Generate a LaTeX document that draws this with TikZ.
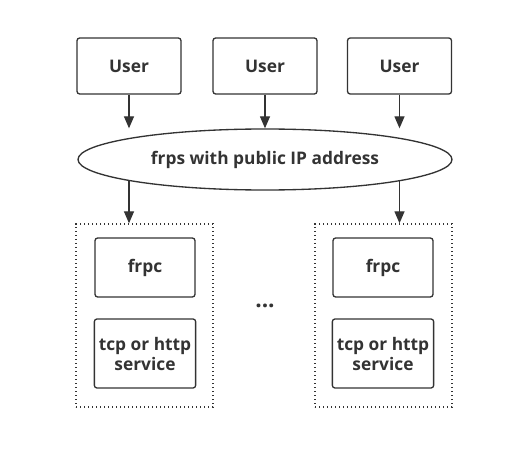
\documentclass[tikz,border=0pt]{standalone}
\usepackage{fontspec}
\setmainfont{Open Sans}
\usetikzlibrary{shapes.geometric,arrows.meta}
\definecolor{ink}{HTML}{333333}
\def\colA{129}
\def\colB{265}
\def\colC{399.5}
\def\rowuser{66}
\def\rowsrv{159.5}
\def\rowclient{315.5}

\begin{document}
\begin{tikzpicture}[x=0.75pt,y=-0.75pt,
    every node/.style={font=\bfseries\fontsize{13}{15}\selectfont, text=ink},
    userbox/.style={draw=ink, line width=1pt, rounded corners=2pt,
        minimum width=78pt, minimum height=42pt},
    innerbox/.style={draw=ink, line width=1pt, rounded corners=2pt,
        minimum width=75pt, align=center},
    clientbox/.style={draw=ink, line width=1pt, dotted,
        minimum width=102.75pt, minimum height=137.25pt},
    flow/.style={draw=ink, line width=1pt, -{Triangle[length=9pt,width=7.5pt]}}]
    \useasboundingbox (0,0) rectangle (532,456);

    \node[userbox] (u1) at (\colA,\rowuser) {User};
    \node[userbox] (u2) at (\colB,\rowuser) {User};
    \node[userbox] (u3) at (\colC,\rowuser) {User};

    \node[ellipse, draw=ink, line width=1pt, minimum width=280.5pt,
        minimum height=45.75pt, inner sep=0pt] (srv) at (\colB,\rowsrv)
        {frps with public IP address};

    \node[clientbox] (c1) at (144.5,\rowclient) {};
    \node[clientbox] (c2) at (383.5,\rowclient) {};

    \node[innerbox, minimum height=44.25pt] (frpc1) at (145,267.5) {frpc};
    \node[innerbox, minimum height=51.75pt] (svc1) at (145,353.5) {tcp or http\\service};
    \node[innerbox, minimum height=44.25pt] (frpc2) at (383,267.5) {frpc};
    \node[innerbox, minimum height=51.75pt] (svc2) at (383,353.5) {tcp or http\\service};

    \node[font=\bfseries\fontsize{17}{17}\selectfont] (dots) at (\colB,306) {...};

    \draw[flow] (u1.south) -- (u1.south |- srv.north);
    \draw[flow] (u2.south) -- (srv.north);
    \draw[flow] (u3.south) -- (u3.south |- srv.north);
    \draw[flow] (srv.189 -| u1.south) -- (u1.south |- c1.north);
    \draw[flow] (srv.-9 -| u3.south) -- (u3.south |- c2.north);
\end{tikzpicture}
\end{document}
